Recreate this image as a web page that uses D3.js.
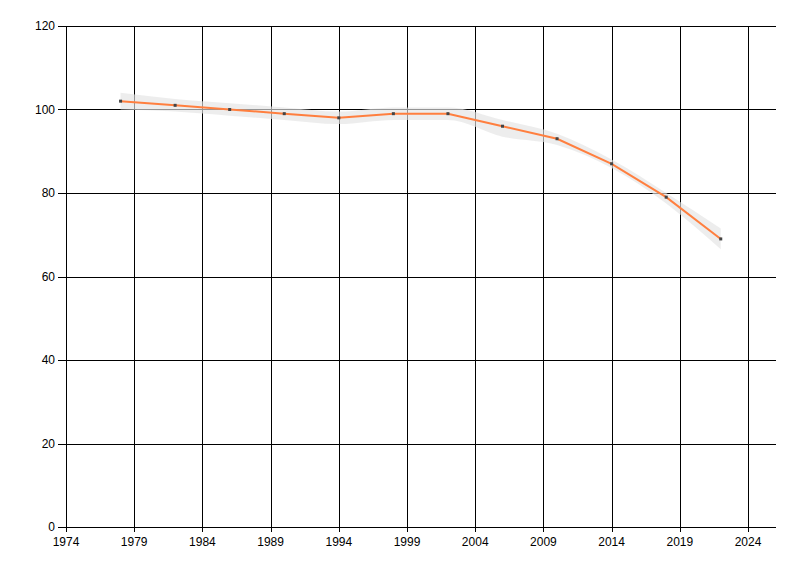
<!DOCTYPE html>
<html>
<head>
<meta charset="utf-8">
<script src="https://cdn.jsdelivr.net/npm/d3@7"></script>
<style>
body{margin:0;background:#fff;}
text{font-family:"Liberation Sans",Arial,sans-serif;font-size:12px;fill:#000;}
</style>
</head>
<body>
<div id="root"></div>
<script>
// data
var years=[1978,1982,1986,1990,1994,1998,2002,2006,2010,2014,2018,2022];
var values=[102,101,100,99,98,99,99,96,93,87,79,69];
var upper=[104,102.5,101.5,100.5,99.5,100.5,100.5,97.5,94.2,88,80,71.5];
var lower=[100,99.5,98.5,97.5,96.5,97.5,97.5,93.5,91.5,86,77.5,66.5];
var xTicks=[1974,1979,1984,1989,1994,1999,2004,2009,2014,2019,2024];
var yTicks=[0,20,40,60,80,100,120];

var W=800,H=576;
var b={t:26,r:24,b:49,l:66};
var w=W-b.l-b.r, h=H-b.t-b.b;

var svg=d3.select('#root').append('svg').attr('width',W).attr('height',H);
var g=svg.append('g').attr('transform','translate('+b.l+','+b.t+')');

var x=d3.scaleLinear().domain([1974,2026.05]).range([0,w]);
var y=d3.scaleLinear().domain([0,120]).range([h,0]);

// grid
g.selectAll('.vg').data(xTicks).enter().append('line')
  .attr('x1',d=>Math.round(x(d))+0.5).attr('x2',d=>Math.round(x(d))+0.5)
  .attr('y1',0).attr('y2',h+5).attr('stroke','#000');
g.selectAll('.hg').data(yTicks).enter().append('line')
  .attr('x1',-8).attr('x2',w)
  .attr('y1',d=>Math.round(y(d))+0.5).attr('y2',d=>Math.round(y(d))+0.5).attr('stroke','#000');

// band
var pts=years.map((yr,i)=>({x:yr,v:values[i],u:upper[i],l:lower[i]}));
var area=d3.area().x(d=>x(d.x)).y0(d=>y(d.l)).y1(d=>y(d.u)).curve(d3.curveMonotoneX);
g.append('path').attr('d',area(pts)).attr('fill','#e4e4e4').attr('opacity',0.65);

// line
var line=d3.line().x(d=>x(d.x)).y(d=>y(d.v));
g.append('path').attr('d',line(pts)).attr('fill','none').attr('stroke','#ff7f3f').attr('stroke-width',2);

g.selectAll('.pt').data(pts).enter().append('rect')
  .attr('x',d=>x(d.x)-1.5).attr('y',d=>y(d.v)-1.5).attr('width',3).attr('height',3).attr('fill','#444');

// labels
g.selectAll('.xl').data(xTicks).enter().append('text')
  .attr('x',d=>x(d)).attr('y',h+19).attr('text-anchor','middle').text(d=>d);
g.selectAll('.yl').data(yTicks).enter().append('text')
  .attr('x',-11).attr('y',d=>y(d)+4).attr('text-anchor','end').text(d=>d);
</script>
</body>
</html>
